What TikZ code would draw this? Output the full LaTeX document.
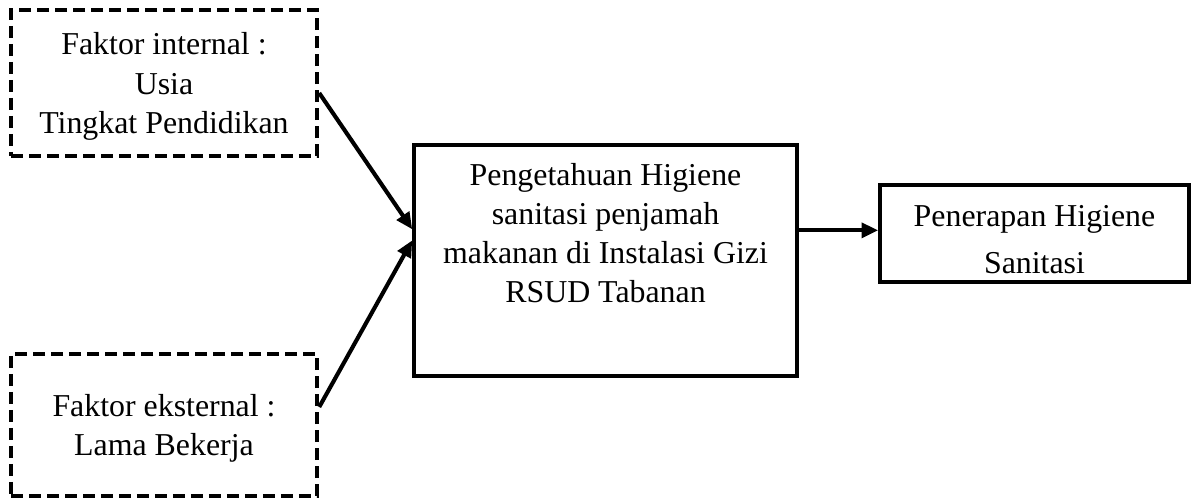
\documentclass[tikz,border=0pt]{standalone}
\usepackage{fontspec}
\setmainfont{Liberation Serif}
\usetikzlibrary{arrows.meta}

\begin{document}
\begin{tikzpicture}[
    every node/.style={font=\fontsize{27.2}{33.3}\selectfont},
    faktor/.style={
        rectangle,
        draw,
        dash pattern=on 0.36cm off 0.18cm,
        line width=3.8pt,
        align=center,
        font=\fontsize{27.2}{34}\selectfont,
        text depth=0pt,
        minimum width=9.18cm
    },
    kotak/.style={
        rectangle,
        draw,
        line width=3pt,
        align=center
    },
    panah/.style={
        -{Triangle[length=0.5cm,width=0.44cm]},
        line width=3.5pt
    }
]
\useasboundingbox (0,0) rectangle (35.91,14.91);

% Faktor yang mempengaruhi
\node[faktor, minimum height=4.38cm] (internal) at (4.92, 12.42) {
    Faktor internal :\\
    Usia\\
    Tingkat Pendidikan
};

\node[faktor, minimum height=4.26cm] (eksternal) at (4.92, 2.16) {
    Faktor eksternal :\\
    Lama Bekerja
};

% Variabel utama
\node[kotak, minimum width=11.49cm, inner ysep=0.57cm, text depth=1.62cm, anchor=north] (pengetahuan) at (18.165, 10.62) {
    Pengetahuan Higiene\\
    sanitasi penjamah\\
    makanan di Instalasi Gizi\\
    RSUD Tabanan
};

\node[kotak, minimum width=9.27cm, inner ysep=0.24cm, text depth=0pt, anchor=north] (penerapan) at (31.035, 9.42) {
    \rule{0pt}{1.02cm}Penerapan Higiene\\[7pt]
    Sanitasi
};

% Panah
\coordinate (keluar) at ([yshift=0.9cm]pengetahuan.east);
\draw[panah] ([yshift=-0.3cm]internal.east) -- ([yshift=0.93cm]pengetahuan.west);
\draw[panah] ([yshift=0.54cm]eksternal.east) -- ([yshift=0.6cm]pengetahuan.west);
\draw[panah] (keluar) -- (keluar -| penerapan.west);

\end{tikzpicture}
\end{document}
